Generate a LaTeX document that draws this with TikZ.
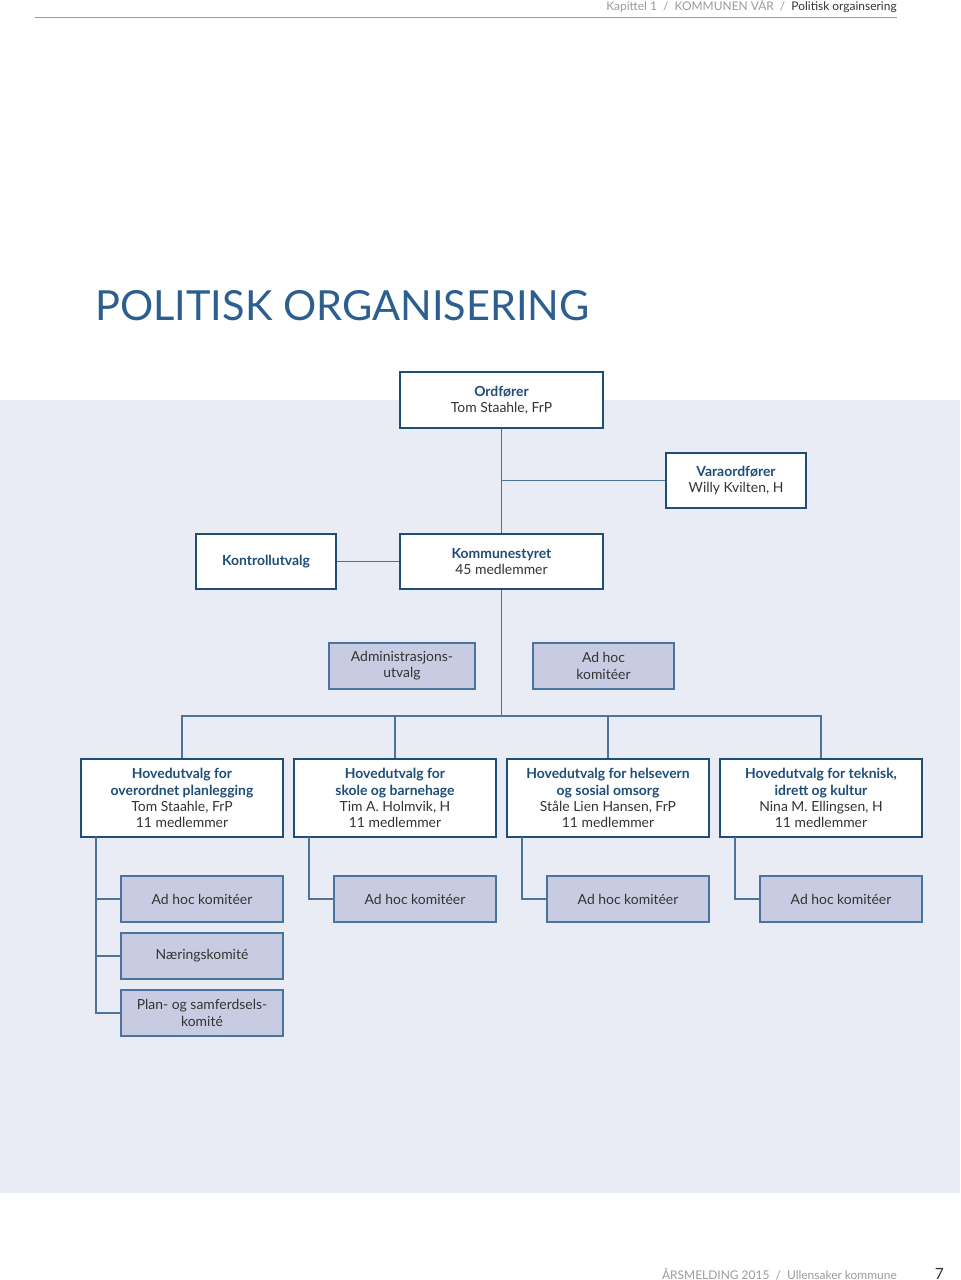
\documentclass[tikz,border=0pt]{standalone}
\usepackage{fontspec}
\setmainfont{Lato}
\usepackage{xcolor}
\usepackage{tikz}
\usetikzlibrary{positioning}

\definecolor{bgblue}{HTML}{E9ECF5}
\definecolor{navy}{HTML}{1E4D78}
\definecolor{linecol}{HTML}{4F7298}
\definecolor{lilac}{HTML}{C8CCE2}
\definecolor{lilacedge}{HTML}{4A73A0}
\definecolor{titleblue}{HTML}{2C5F8F}
\definecolor{textgray}{HTML}{333333}
\definecolor{headgray}{HTML}{9A9A9A}

\tikzset{
  mainbox/.style={rectangle,fill=white,draw=navy,line width=1.4pt,align=center,
    text=textgray,font=\fontsize{9.9}{11.5}\selectfont,inner sep=0pt},
  subbox/.style={rectangle,fill=lilac,draw=lilacedge,line width=0.8pt,align=center,
    text=textgray,font=\fontsize{9.9}{11.5}\selectfont,inner sep=0pt,
    minimum width=4.05cm,minimum height=1.15cm},
  hubox/.style={mainbox,minimum width=5.05cm,minimum height=1.95cm},
  conn/.style={draw=linecol,line width=1pt}
}
\newcommand{\hd}[1]{{\bfseries\color{navy}#1}}

\begin{document}
\begin{tikzpicture}[x=0.025cm,y=-0.025cm]
		\useasboundingbox (0,0) rectangle (960,1280);
		\fill[bgblue] (0,400) rectangle (960,1193);

		\draw[headgray,line width=0.5pt] (35,17) -- (897,17);
		\node[anchor=base east,inner sep=0pt,font=\fontsize{8.5}{10}\selectfont] (head) at (897,11)
			{\color{headgray}Kapittel 1\ \ /\ \ KOMMUNEN VÅR\ \ /\ \ \color{textgray}Politisk orgainsering};
		\node[anchor=west,inner sep=0pt,text=titleblue,font=\fontsize{29.5}{36}\selectfont] (title) at (95,306)
			{POLITISK ORGANISERING};

		\node[mainbox,minimum width=5.075cm,minimum height=1.4cm] (ordf) at (501.5,400) {\hd{Ordfører}\\Tom Staahle, FrP};
		\node[mainbox,minimum width=3.5cm,minimum height=1.375cm] (vara) at (736,480.5) {\hd{Varaordfører}\\Willy Kvilten, H};
		\node[mainbox,minimum width=3.5cm,minimum height=1.375cm] (kontroll) at (266,561.5) {\hd{Kontrollutvalg}};
		\node[mainbox,minimum width=5.075cm,minimum height=1.375cm] (kstyre) at (501.5,561.5) {\hd{Kommunestyret}\\45 medlemmer};

		\node[subbox,minimum width=3.65cm] (admin) at (402,666) {Administrasjons-\\utvalg};
		\node[subbox,minimum width=3.525cm] (adhoc) at (603.5,666) {Ad hoc\\komitéer};

		\node[hubox] (hu1) at (182,798) {\hd{Hovedutvalg for}\\\hd{overordnet planlegging}\\Tom Staahle, FrP\\11 medlemmer};
		\node[hubox] (hu2) at (395,798) {\hd{Hovedutvalg for}\\\hd{skole og barnehage}\\Tim A. Holmvik, H\\11 medlemmer};
		\node[hubox] (hu3) at (608,798) {\hd{Hovedutvalg for helsevern}\\\hd{og sosial omsorg}\\Ståle Lien Hansen, FrP\\11 medlemmer};
		\node[hubox] (hu4) at (821,798) {\hd{Hovedutvalg for teknisk,}\\\hd{idrett og kultur}\\Nina M. Ellingsen, H\\11 medlemmer};

		\node[subbox] (adhoc1) at (202,899) {Ad hoc komitéer};
		\node[subbox] (naering) at (202,956) {Næringskomité};
		\node[subbox] (plan) at (202,1013) {Plan- og samferdsels-\\komité};
		\node[subbox] (adhoc2) at (415,899) {Ad hoc komitéer};
		\node[subbox] (adhoc3) at (628,899) {Ad hoc komitéer};
		\node[subbox] (adhoc4) at (841,899) {Ad hoc komitéer};

		\coordinate (bus) at (501.5,716);
		\coordinate (t1) at (96,837);
		\coordinate (t2) at (309,837);
		\coordinate (t3) at (522,837);
		\coordinate (t4) at (735,837);

		\draw[conn] (ordf.south) -- (kstyre.north);
		\draw[conn] (vara.west) -- (vara.west -| ordf.south);
		\draw[conn] (kontroll.east) -- (kstyre.west);
		\draw[conn] (kstyre.south) -- (bus);
		\draw[conn] (hu1.north) |- (bus);
		\draw[conn] (hu2.north) |- (bus);
		\draw[conn] (hu3.north) |- (bus);
		\draw[conn] (hu4.north) |- (bus);

		\draw[conn] (t1) |- (plan.west);
		\draw[conn] (t1) |- (naering.west);
		\draw[conn] (t1) |- (adhoc1.west);
		\draw[conn] (t2) |- (adhoc2.west);
		\draw[conn] (t3) |- (adhoc3.west);
		\draw[conn] (t4) |- (adhoc4.west);

		\node[anchor=base east,inner sep=0pt,text=headgray,font=\fontsize{8.5}{10}\selectfont] (foot) at (897,1279)
			{ÅRSMELDING 2015\ \ /\ \ Ullensaker kommune};
		\node[anchor=base east,inner sep=0pt,text=textgray,font=\fontsize{11}{13}\selectfont] (page) at (944,1279) {7};
	\end{tikzpicture}
\end{document}
